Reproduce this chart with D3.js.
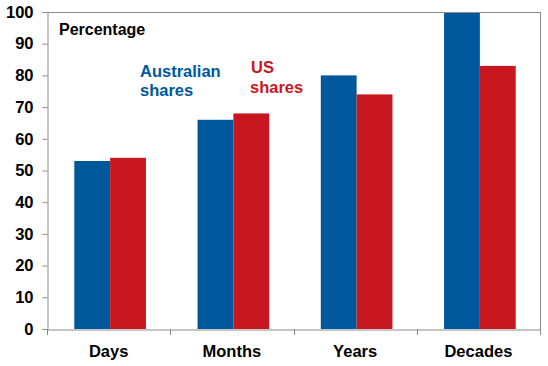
<!DOCTYPE html>
<html>
<head>
<meta charset="utf-8">
<script src="https://cdn.jsdelivr.net/npm/d3@7"></script>
<style>
  body { margin: 0; background: #fff; }
  text { font-family: "Liberation Sans", Arial, sans-serif; font-weight: bold; }
</style>
</head>
<body>
<div id="chart"></div>
<script>
// data
var categories = ["Days", "Months", "Years", "Decades"];
var seriesNames = ["Australian shares", "US shares"];
var ausValues = [53, 66, 80, 100];
var usValues = [54, 68, 74, 83];
var yTicks = [0, 10, 20, 30, 40, 50, 60, 70, 80, 90, 100];

var W = 548, H = 366;
var plotL = 47, plotR = 540, plotT = 12, plotB = 329;
var colors = {"Australian shares": "#00589C", "US shares": "#C8171E"};
var axisColor = "#8c8c8c";

var svg = d3.select("#chart").append("svg")
  .attr("width", W).attr("height", H);

var x0 = d3.scaleBand().domain(categories).range([plotL, plotR]);
var x1 = d3.scaleBand().domain(seriesNames)
  .range([0, x0.bandwidth()])
  .paddingOuter(0.72).paddingInner(0);
var y = d3.scaleLinear().domain([0, 100]).range([plotB, plotT]);

var rows = categories.map(function(c, i){
  return {cat: c, values: [
    {s: seriesNames[0], v: ausValues[i]},
    {s: seriesNames[1], v: usValues[i]}
  ]};
});

// bars
var groups = svg.selectAll(".grp").data(rows).enter().append("g")
  .attr("class", "grp")
  .attr("transform", function(d){ return "translate(" + (x0(d.cat) + 1.5) + ",0)"; });

groups.selectAll("rect").data(function(d){ return d.values; }).enter().append("rect")
  .attr("x", function(d){ return x1(d.s); })
  .attr("width", x1.bandwidth())
  .attr("y", function(d){ return y(d.v); })
  .attr("height", function(d){ return y(0) - y(d.v); })
  .attr("fill", function(d){ return colors[d.s]; });

// frame top & right
svg.append("line").attr("x1", plotL).attr("x2", plotR).attr("y1", plotT + 0.5).attr("y2", plotT + 0.5)
  .attr("stroke", axisColor);
svg.append("line").attr("x1", plotR + 0.5).attr("x2", plotR + 0.5).attr("y1", plotT).attr("y2", plotB)
  .attr("stroke", axisColor);

// y axis
var yAxis = svg.append("g")
  .attr("transform", "translate(" + (plotL + 0.5) + ",0)")
  .call(d3.axisLeft(y).tickValues(yTicks).tickSize(5).tickPadding(9).tickFormat(d3.format("d")));
yAxis.select(".domain").attr("stroke", axisColor);
yAxis.selectAll(".tick line").attr("stroke", axisColor);
yAxis.selectAll(".tick text").attr("font-size", 16.5).attr("fill", "#000")
  .attr("font-family", "Liberation Sans, Arial, sans-serif").attr("font-weight", "bold");

// x axis
var xAxis = svg.append("g")
  .attr("transform", "translate(0," + (plotB + 0.5) + ")")
  .call(d3.axisBottom(x0).tickSize(0).tickPadding(16));
xAxis.select(".domain").attr("stroke", axisColor);
xAxis.selectAll(".tick text").attr("font-size", 16.5).attr("fill", "#000")
  .attr("font-family", "Liberation Sans, Arial, sans-serif").attr("font-weight", "bold");

var xTickPos = categories.map(function(c){ return x0(c); }).concat([plotR]);
svg.selectAll(".xtick").data(xTickPos).enter().append("line")
  .attr("x1", function(d){ return Math.round(d) + 0.5; })
  .attr("x2", function(d){ return Math.round(d) + 0.5; })
  .attr("y1", plotB).attr("y2", plotB + 6)
  .attr("stroke", axisColor);

// title
svg.append("text").attr("x", 59).attr("y", 35).attr("font-size", 16).attr("fill", "#000")
  .text("Percentage");

// legend labels
var aus = svg.append("text").attr("x", 140).attr("y", 77).attr("font-size", 16.5)
  .attr("fill", colors[seriesNames[0]]);
aus.append("tspan").attr("x", 140).text("Australian");
aus.append("tspan").attr("x", 140).attr("dy", 18.5).text("shares");

var us = svg.append("text").attr("x", 250).attr("y", 73).attr("font-size", 16.5)
  .attr("fill", colors[seriesNames[1]]);
us.append("tspan").attr("x", 251).text("US");
us.append("tspan").attr("x", 250).attr("dy", 19.5).text("shares");
</script>
</body>
</html>
